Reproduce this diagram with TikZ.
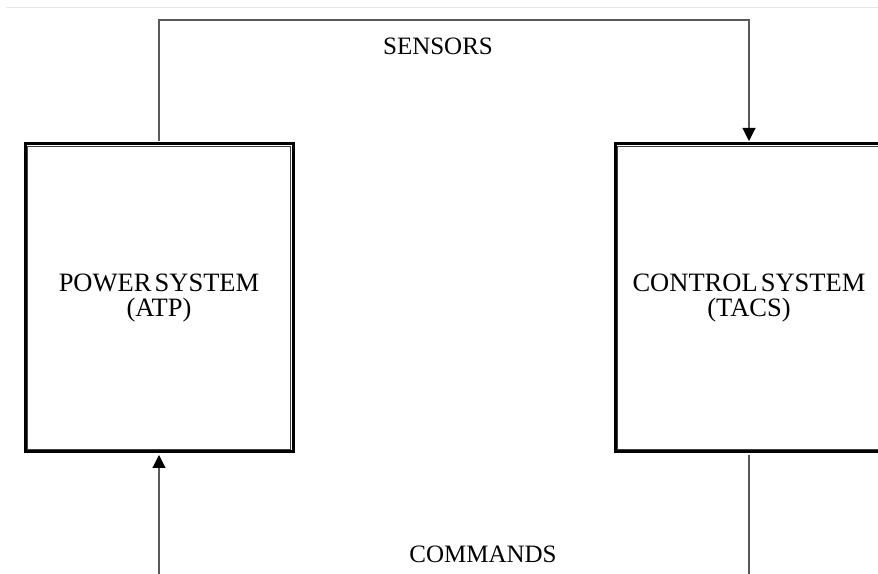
\documentclass[tikz,border=0pt]{standalone}
\usepackage{fontspec}
\setmainfont{Liberation Serif}
\usetikzlibrary{arrows.meta}
\begin{document}
\begin{tikzpicture}[x=1pt,y=1pt,
  sysbox/.style={draw=black, line width=3pt, minimum width=268pt, minimum height=308pt,
    inner sep=0pt, align=center, font=\fontsize{26.5}{25}\selectfont},
  innerline/.style={draw=black!75, line width=0.9pt},
  link/.style={draw=black!65, line width=1.1pt},
  tip/.style={-{Triangle[width=13pt,length=13pt,color=black]}},
  lbl/.style={font=\fontsize{25}{26}\selectfont, inner sep=0pt, anchor=base}]
  \clip (0,0) rectangle (878,573);
  \fill[white] (0,0) rectangle (878,573);
  % faint rule across the top
  \draw[black!9, line width=1pt] (6,565) -- (878,565);
  % the two systems
  \node[sysbox] (pow) at (159,275) {POWER\hspace{0.12em}SYSTEM\\(ATP)};
  \node[sysbox] (ctl) at (749,275) {CONTROL\hspace{0.12em}SYSTEM\\(TACS)};
  \foreach \b in {pow,ctl}
    \draw[innerline] ([shift={(3.6,-3.6)}]\b.north west) rectangle ([shift={(-3.6,3.6)}]\b.south east);
  % signal paths
  \coordinate (top) at (0,553);
  \coordinate (bot) at (0,-2);
  \draw[link,tip] ([yshift=1.5pt]pow.north) -- (pow.north |- top) -| ([yshift=1.5pt]ctl.north);
  \draw[link] ([yshift=-1.5pt]ctl.south) -- (ctl.south |- bot);
  \draw[link,tip] (pow.south |- bot) -- ([yshift=-1.5pt]pow.south);
  \node[lbl] (sens) at (438,518) {SENSORS};
  \node[lbl] (cmd) at (483,11) {COMMANDS};
\end{tikzpicture}
\end{document}
